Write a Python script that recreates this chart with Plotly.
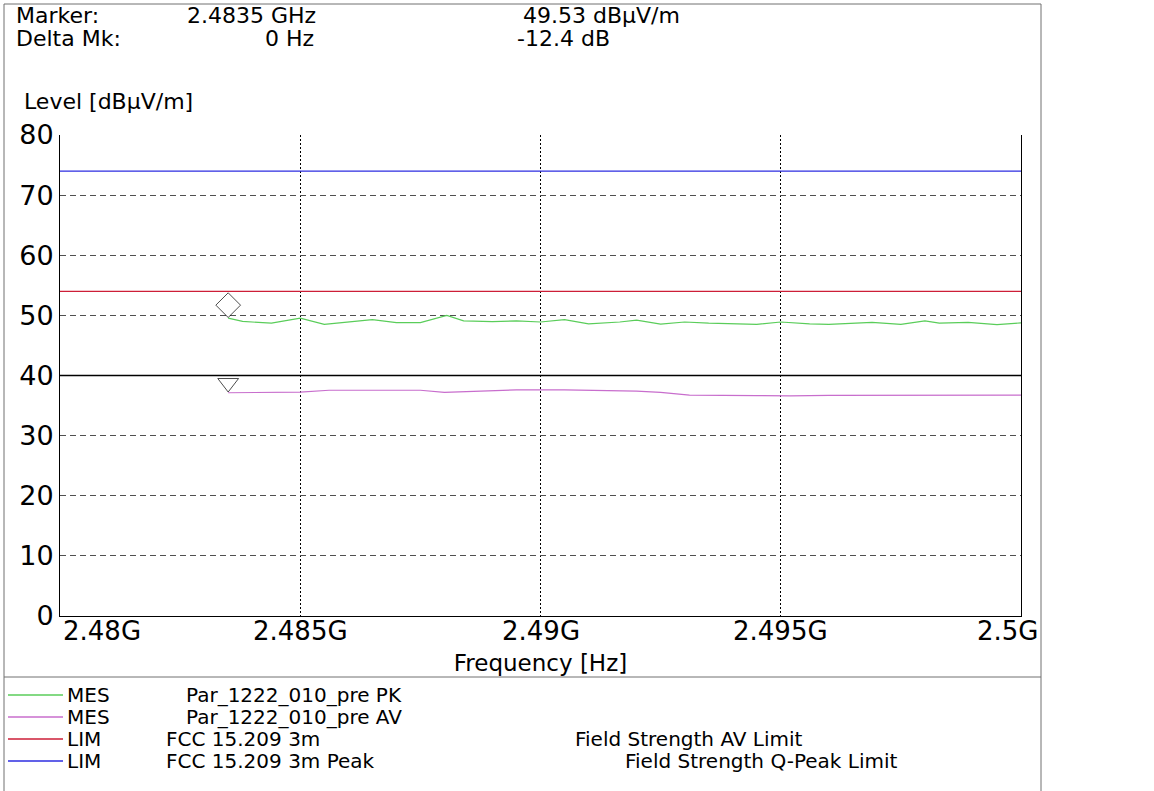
import plotly.graph_objects as go

# ---------------- data ----------------
pk_freq_ghz = [2.4835, 2.4838, 2.4844, 2.4850, 2.4855, 2.4860, 2.4865, 2.4870, 2.4875, 2.48805,
               2.4884, 2.4890, 2.4895, 2.4900, 2.4905, 2.4910, 2.49165, 2.4920, 2.4925, 2.4930,
               2.4935, 2.4945, 2.4950, 2.4956, 2.4960, 2.4969, 2.4975, 2.4980, 2.4983, 2.4989,
               2.4995, 2.5000]
pk_level = [49.53, 49.0, 48.7, 49.55, 48.5, 48.9, 49.3, 48.8, 48.8, 50.0,
            49.1, 48.95, 49.1, 48.9, 49.3, 48.6, 48.9, 49.2, 48.55, 48.9,
            48.7, 48.5, 48.9, 48.6, 48.5, 48.85, 48.5, 49.1, 48.7, 48.85,
            48.45, 48.75]

av_freq_ghz = [2.4835, 2.4840, 2.4850, 2.4856, 2.4870, 2.4875, 2.4880, 2.4885, 2.4895, 2.4905,
               2.4913, 2.4920, 2.4925, 2.4931, 2.4945, 2.4952, 2.4960, 2.4975, 2.4990, 2.4995,
               2.5000]
av_level = [37.13, 37.2, 37.25, 37.55, 37.5, 37.55, 37.2, 37.35, 37.6, 37.6,
            37.5, 37.4, 37.2, 36.75, 36.65, 36.6, 36.7, 36.75, 36.75, 36.7,
            36.75]

limit_freq_ghz = [2.48, 2.50]
av_limit = [54, 54]
peak_limit = [74, 74]
display_line_level = 40

marker_freq_ghz = 2.4835
marker_symbol_levels = [51.7, 38.75]   # diamond (PK marker) / triangle (AV marker)

x_tick_vals_ghz = [2.48, 2.485, 2.49, 2.495, 2.5]
x_tick_labels = ["2.48G", "2.485G", "2.49G", "2.495G", "2.5G"]
y_tick_vals = [0, 10, 20, 30, 40, 50, 60, 70, 80]
y_tick_labels = ["0", "10", "20", "30", "40", "50", "60", "70", "80"]

header_rows = [["Marker:", "2.4835 GHz", "49.53 dBµV/m"],
               ["Delta Mk:", "0 Hz", "-12.4 dB"]]
legend_rows = [["MES", "Par_1222_010_pre PK"],
               ["MES", "Par_1222_010_pre AV"],
               ["LIM", "FCC 15.209 3m", "Field Strength AV Limit"],
               ["LIM", "FCC 15.209 3m Peak", "Field Strength Q-Peak Limit"]]
y_title = "Level [dBµV/m]"
x_title = "Frequency [Hz]"

# ---------------- styles ----------------
GREEN = "rgb(90,205,90)"
MAGENTA = "rgb(200,110,205)"
RED = "rgb(205,30,55)"
BLUE = "rgb(45,45,225)"
FONT = "DejaVu Sans"

W, H = 1154, 791
L, R, T, B = 60, 133, 135, 175
PW, PH = W - L - R, H - T - B


def px(x):
    return (x - L) / PW


def py(y):
    return (H - B - y) / PH


def hz(arr):
    return [round(v * 1e9) for v in arr]


fig = go.Figure()
fig.add_trace(go.Scatter(x=hz(limit_freq_ghz), y=peak_limit, mode="lines",
                         line=dict(color=BLUE, width=1.3), showlegend=False, hoverinfo="skip"))
fig.add_trace(go.Scatter(x=hz(limit_freq_ghz), y=av_limit, mode="lines",
                         line=dict(color=RED, width=1.3), showlegend=False, hoverinfo="skip"))
fig.add_trace(go.Scatter(x=hz(pk_freq_ghz), y=pk_level, mode="lines",
                         line=dict(color=GREEN, width=1.2), showlegend=False))
fig.add_trace(go.Scatter(x=hz(av_freq_ghz), y=av_level, mode="lines",
                         line=dict(color=MAGENTA, width=1.2), showlegend=False))
fig.add_trace(go.Scatter(x=hz([marker_freq_ghz] * 2), y=marker_symbol_levels, mode="markers",
                         marker=dict(symbol=["diamond-open", "triangle-down-open"], size=[19, 18],
                                     color="black", line=dict(color="black", width=1)),
                         showlegend=False))

shapes = []
# display line at 40
shapes.append(dict(type="line", xref="paper", x0=0, x1=1, yref="y",
                   y0=display_line_level, y1=display_line_level,
                   line=dict(color="black", width=1.5)))
# outer frame
shapes.append(dict(type="rect", xref="paper", yref="paper", x0=px(4), x1=px(1041),
                   y0=py(800), y1=py(4), line=dict(color="#707070", width=1)))
# separator between plot and legend
shapes.append(dict(type="line", xref="paper", yref="paper", x0=px(4), x1=px(1041),
                   y0=py(677), y1=py(677), line=dict(color="#707070", width=1)))
# legend line samples
legend_colors = [GREEN, MAGENTA, RED, BLUE]
legend_y = [695, 717, 739, 761]
for c, yy in zip(legend_colors, legend_y):
    shapes.append(dict(type="line", xref="paper", yref="paper", x0=px(8), x1=px(63),
                       y0=py(yy), y1=py(yy), line=dict(color=c, width=1.3)))

annotations = []


def txt(s, x, y, size=21, anchor="left"):
    annotations.append(dict(text=s, x=px(x), y=py(y), xref="paper", yref="paper",
                            xanchor=anchor, yanchor="middle", showarrow=False,
                            font=dict(family=FONT, size=size, color="black")))


# header (marker read-out)
header_pos = [[(14, "left"), (185, "left"), (521, "left")],
              [(14, "left"), (316, "right"), (515, "left")]]
header_y = [15, 38]
for row, pos, yy in zip(header_rows, header_pos, header_y):
    for s, (xx, anc) in zip(row, pos):
        txt(s, xx, yy, size=22, anchor=anc)
txt(y_title, 22, 101, size=22)

legend_x = [[65, 184], [65, 184], [65, 164, 573], [65, 164, 623]]
for row, xs, yy in zip(legend_rows, legend_x, legend_y):
    for s, xx in zip(row, xs):
        txt(s, xx, yy, size=20)

# x tick labels, placed on the x axis scale (first left-aligned, last right-aligned)
n_ticks = len(x_tick_labels)
for i, (v, lab) in enumerate(zip(hz(x_tick_vals_ghz), x_tick_labels)):
    anc = "left" if i == 0 else ("right" if i == n_ticks - 1 else "center")
    shift = 1 if i == 0 else (20 if i == n_ticks - 1 else 0)
    annotations.append(dict(text=lab, x=v, xref="x", y=py(631), yref="paper",
                            xanchor=anc, yanchor="middle", xshift=shift, showarrow=False,
                            font=dict(family=FONT, size=26, color="black")))

fig.update_layout(
    width=W, height=H, autosize=False,
    margin=dict(l=L, r=R, t=T, b=B, pad=0),
    paper_bgcolor="white", plot_bgcolor="white",
    shapes=shapes, annotations=annotations,
    font=dict(family=FONT, color="black"),
    xaxis=dict(range=[2.48e9, 2.5e9], tickvals=hz(x_tick_vals_ghz), showticklabels=False,
               ticks="",
               showline=True, linecolor="black", linewidth=1, mirror=False,
               showgrid=True, gridcolor="black", gridwidth=1, griddash="2px,2px",
               zeroline=False, fixedrange=True,
               title=dict(text=x_title, font=dict(family=FONT, size=23, color="black"), standoff=38)),
    yaxis=dict(range=[0, 80], tickvals=y_tick_vals, ticktext=y_tick_labels,
               tickfont=dict(family=FONT, size=27, color="black"), ticks="",
               showline=True, linecolor="black", linewidth=1, mirror=True,
               showgrid=True, gridcolor="#505050", gridwidth=1, griddash="6px,4px",
               zeroline=False, fixedrange=True),
)

fig.write_html("out.html")
